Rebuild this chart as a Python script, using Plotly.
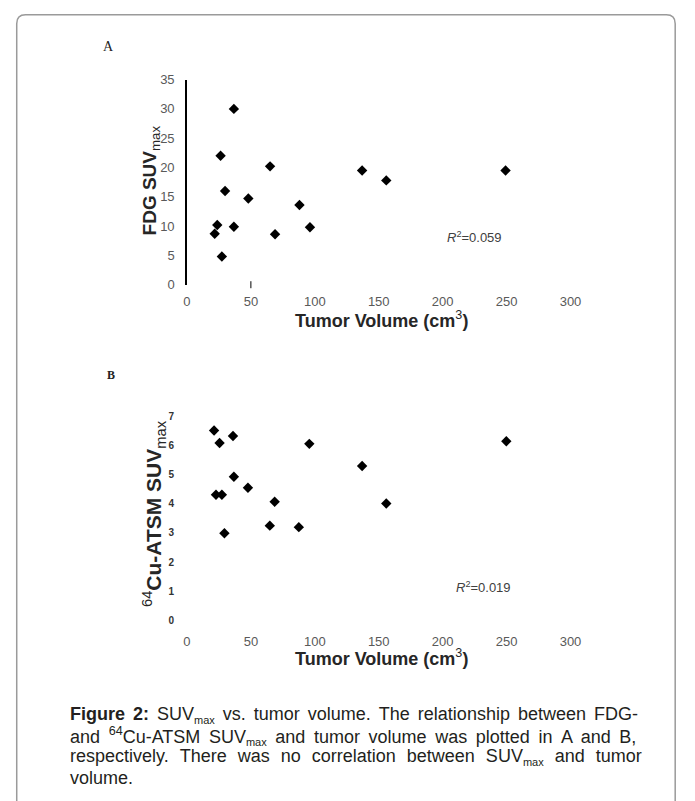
import plotly.graph_objects as go

# ---------------- data ----------------
fdg_volume = [21.7, 23.7, 26.3, 27.3, 29.8, 36.7, 36.7, 48.0, 65.0, 68.9, 88.0, 96.2, 137.0, 155.9, 249.2]
fdg_suv = [8.7, 10.2, 22.0, 4.8, 16.0, 30.0, 9.9, 14.7, 20.2, 8.6, 13.6, 9.8, 19.5, 17.8, 19.5]

cu_volume = [21.2, 22.7, 25.5, 27.3, 29.3, 36.0, 36.7, 47.7, 64.8, 68.6, 87.5, 95.7, 137.0, 155.9, 249.8]
cu_suv = [6.52, 4.31, 6.09, 4.31, 2.99, 6.33, 4.93, 4.55, 3.25, 4.07, 3.20, 6.06, 5.30, 4.01, 6.15]

x_ticks = [0, 50, 100, 150, 200, 250, 300]
fdg_y_ticks = [0, 5, 10, 15, 20, 25, 30, 35]
cu_y_ticks = [0, 1, 2, 3, 4, 5, 6, 7]

stray_ticks_a = [50]
stray_ticks_b = [50, 100, 200, 250]

r2_a = "0.059"
r2_b = "0.019"

SUB = '<sub><span style="font-size:11px">max</span></sub>'
caption_words = [
    ["<b>Figure", "2:</b>", "SUV" + SUB, "vs.", "tumor", "volume.", "The", "relationship", "between", "FDG-"],
    ["and", "<sup>64</sup>Cu-ATSM", "SUV" + SUB, "and", "tumor", "volume", "was", "plotted", "in", "A", "and", "B,"],
    ["respectively.", "There", "was", "no", "correlation", "between", "SUV" + SUB, "and", "tumor"],
    ["volume."],
]
# extra gap per line to mimic the justified paragraph
caption_gaps = [" \u2006", " \u2009", " \u2004", " "]

W, H = 695, 801
SANS = "Liberation Sans, Arial, sans-serif"
SERIF = "Liberation Serif, Times New Roman, serif"


def px(x):
    return x / W


def py(y):
    return 1 - y / H


fig = go.Figure()

# Panel A
fig.add_trace(go.Scatter(x=fdg_volume, y=fdg_suv, mode="markers", xaxis="x", yaxis="y",
                         marker=dict(symbol="diamond", size=8, color="black"),
                         showlegend=False, cliponaxis=False))
fig.add_trace(go.Scatter(x=stray_ticks_a, y=[0] * len(stray_ticks_a), mode="markers", xaxis="x", yaxis="y",
                         marker=dict(symbol="line-ns", size=5, line=dict(color="black", width=1)),
                         showlegend=False, cliponaxis=False))
# Panel B
fig.add_trace(go.Scatter(x=cu_volume, y=cu_suv, mode="markers", xaxis="x2", yaxis="y2",
                         marker=dict(symbol="diamond", size=8, color="black"),
                         showlegend=False, cliponaxis=False))
fig.add_trace(go.Scatter(x=stray_ticks_b, y=[-0.05] * len(stray_ticks_b), mode="markers", xaxis="x2", yaxis="y2",
                         marker=dict(symbol="line-ns", size=6, line=dict(color="black", width=1)),
                         showlegend=False, cliponaxis=False))

xdom = [px(187), px(579)]

common_x = dict(range=[0, 300], tickvals=x_ticks, showgrid=False, zeroline=False,
                showline=False, ticks="", tickfont=dict(family=SANS, size=13, color="#595959"))

fig.update_layout(
    width=W, height=H, autosize=False,
    margin=dict(l=0, r=0, t=0, b=0),
    paper_bgcolor="white", plot_bgcolor="white",
    xaxis=dict(domain=xdom, anchor="y", ticklabelstandoff=7, **common_x),
    yaxis=dict(domain=[py(283), py(74)], anchor="x", range=[0, 35], tickvals=fdg_y_ticks,
               showgrid=False, zeroline=False, showline=True, linecolor="black", linewidth=1.5,
               ticks="", ticklabelstandoff=8,
               tickfont=dict(family=SANS, size=13, color="#595959")),
    xaxis2=dict(domain=xdom, anchor="y2", ticklabelstandoff=12, **common_x),
    yaxis2=dict(domain=[py(625), py(417.3)], anchor="x2", range=[0, 7], tickvals=cu_y_ticks,
                showgrid=False, zeroline=False, showline=False, ticks="", ticklabelstandoff=12,
                tickfont=dict(family=SANS, size=10, color="#333333", weight="bold")),
)

ann = []
# panel letters
ann.append(dict(x=px(107), y=py(40), text="A", font=dict(family=SERIF, size=14, color="#222")))
ann.append(dict(x=px(109), y=py(375), text="<b>B</b>", font=dict(family=SERIF, size=12, color="#222")))
# axis titles
ann.append(dict(x=px(386), y=py(318), text="<b>Tumor Volume (cm</b><sup>3</sup><b>)</b>",
                font=dict(family=SANS, size=18, color="#262626")))
ann.append(dict(x=px(386), y=py(663), text="<b>Tumor Volume (cm</b><sup>3</sup><b>)</b>",
                font=dict(family=SANS, size=18, color="#262626")))
ann.append(dict(x=px(150), y=py(177), text="<b>FDG SUV</b><sub>max</sub>", textangle=-90,
                font=dict(family=SANS, size=19, color="#262626")))
ann.append(dict(x=px(153), y=py(516), text="<sup>64</sup><b>Cu-ATSM SUV</b><sub>max</sub>", textangle=-90,
                font=dict(family=SANS, size=21, color="#262626")))
# R^2
ann.append(dict(x=225, y=8.2, xref="x", yref="y", text="<i>R</i><sup>2</sup>=" + r2_a,
                font=dict(family=SANS, size=13, color="#404040")))
ann.append(dict(x=232, y=1.15, xref="x2", yref="y2", text="<i>R</i><sup>2</sup>=" + r2_b,
                font=dict(family=SANS, size=13, color="#404040")))

for a in ann:
    a.setdefault("xref", "paper")
    a.setdefault("yref", "paper")
    a["showarrow"] = False
    a["xanchor"] = "center"
    a["yanchor"] = "middle"

line_y = [722, 743, 764, 786]
for words, gap, yy in zip(caption_words, caption_gaps, line_y):
    ann.append(dict(x=px(65), y=py(yy), xref="paper", yref="paper", xanchor="left", yanchor="middle",
                    text=gap.join(words), showarrow=False, align="left",
                    font=dict(family=SANS, size=18, color="#231f20")))

fig.update_layout(annotations=ann)

# rounded page border
l, t, r, b, rad = 13, 8, 686, 830, 9
path = (f"M {px(l)},{py(b)} L {px(l)},{py(t + rad)} Q {px(l)},{py(t)} {px(l + rad)},{py(t)} "
        f"L {px(r - rad)},{py(t)} Q {px(r)},{py(t)} {px(r)},{py(t + rad)} L {px(r)},{py(b)}")
fig.add_shape(type="path", path=path, xref="paper", yref="paper",
              line=dict(color="#9a9a9a", width=1.5))

fig.write_html(
    "out.html",
    config={"responsive": False, "displayModeBar": False},
    default_width="695px", default_height="801px",
    post_script="document.body.style.margin='0';document.body.style.padding='0';"
                "document.body.style.overflow='hidden';",
)
